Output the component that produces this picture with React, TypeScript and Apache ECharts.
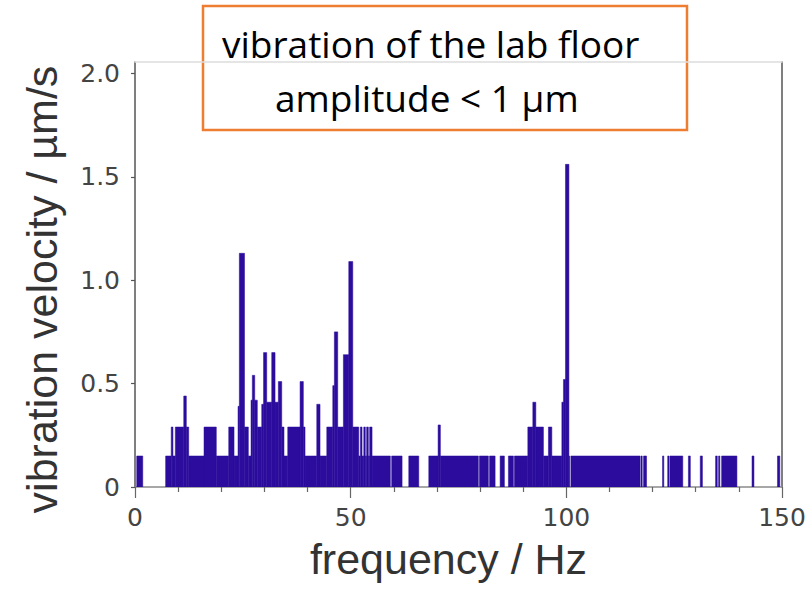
import React, { useEffect, useRef } from "react";
import * as echarts from "echarts";

// frequency axis (Hz) and velocity axis (µm/s)
const xTickValues = [0, 50, 100, 150];
const yTickValues = [0, 0.5, 1.0, 1.5, 2.0];

// spectrum bands: [start Hz, end Hz, vibration velocity µm/s]
const bandsLow: number[][] = [
  [0.4, 1.8, 0.15],
  [7.1, 8.4, 0.15],
  [8.4, 8.8, 0.29],
  [8.8, 9.35, 0.15],
  [9.35, 11.3, 0.29],
  [11.3, 11.9, 0.44],
  [11.9, 12.45, 0.29],
  [12.45, 16.0, 0.15],
  [16.0, 18.85, 0.29],
  [18.85, 21.73, 0.15],
  [21.73, 22.96, 0.29],
  [22.96, 23.89, 0.15],
  [23.89, 24.19, 0.39],
  [24.19, 25.39, 1.13],
  [25.39, 26.28, 0.29],
  [26.28, 26.9, 0.15],
  [26.9, 27.2, 0.42],
  [27.2, 27.76, 0.54],
  [27.76, 28.36, 0.42],
  [28.36, 29.38, 0.29],
  [29.38, 29.8, 0.4],
  [29.8, 30.54, 0.65],
  [30.54, 31.7, 0.41],
  [31.7, 32.47, 0.65],
  [32.47, 33.23, 0.41],
  [33.23, 34.02, 0.51],
  [34.02, 34.55, 0.29],
  [34.55, 35.41, 0.15],
];

const bandsMid: number[][] = [
  [35.41, 38.27, 0.29],
  [38.27, 39.03, 0.51],
  [39.03, 39.42, 0.29],
  [39.42, 42.14, 0.15],
  [42.14, 42.9, 0.4],
  [42.9, 44.46, 0.15],
  [44.46, 45.85, 0.29],
  [45.85, 46.22, 0.49],
  [46.22, 47.0, 0.75],
  [47.0, 48.31, 0.29],
  [48.31, 49.56, 0.64],
  [49.56, 50.49, 1.09],
  [50.49, 51.88, 0.29],
  [51.88, 52.25, 0.15],
  [52.25, 52.64, 0.29],
  [52.64, 53.04, 0.15],
  [53.04, 53.4, 0.29],
  [53.4, 53.7, 0.15],
  [53.7, 54.1, 0.29],
  [54.1, 54.4, 0.15],
  [54.4, 54.96, 0.29],
  [54.96, 59.2, 0.15],
  [59.5, 61.92, 0.15],
  [63.47, 65.79, 0.15],
  [68.11, 70.27, 0.15],
  [70.27, 70.8, 0.3],
];

const bandsHigh: number[][] = [
  [70.8, 79.6, 0.15],
  [79.85, 81.93, 0.15],
  [82.2, 83.49, 0.15],
  [84.65, 85.64, 0.15],
  [86.57, 87.73, 0.15],
  [87.95, 91.07, 0.15],
  [91.07, 92.23, 0.29],
  [92.23, 92.93, 0.41],
  [92.93, 94.69, 0.29],
  [94.69, 95.85, 0.15],
  [95.85, 96.64, 0.29],
  [96.64, 98.96, 0.15],
  [98.96, 99.33, 0.41],
  [99.33, 99.8, 0.52],
  [99.8, 100.6, 1.56],
  [100.6, 100.75, 0.15],
  [101.05, 117.1, 0.15],
  [117.3, 117.6, 0.15],
  [117.9, 118.6, 0.15],
  [122.3, 122.6, 0.15],
  [123.5, 123.8, 0.15],
  [124.0, 127.0, 0.15],
  [128.3, 128.75, 0.15],
  [131.05, 131.55, 0.15],
  [134.6, 135.0, 0.15],
  [135.3, 135.6, 0.15],
  [136.0, 139.55, 0.15],
  [143.05, 143.5, 0.15],
  [148.95, 149.5, 0.15],
];

const titleLines = ["vibration of the lab floor", "amplitude < 1 \u03bcm"];
const xAxisTitle = "frequency / Hz";
const yAxisTitle = "vibration velocity / \u00b5m/s";

const BAR_COLOR = "#2B0C9C";
const FONT = "'Liberation Sans', Arial, Helvetica, sans-serif";
const TICK_FONT = "'DejaVu Sans', sans-serif";
const BOX_FONT = "'Open Sans', Lato, sans-serif";

export default function App() {
  const ref = useRef<HTMLDivElement>(null);

  useEffect(() => {
    if (!ref.current) return;
    const chart = echarts.init(ref.current, null, { renderer: "svg" });
    const data = [...bandsLow, ...bandsMid, ...bandsHigh];

    chart.setOption({
      animation: false,
      backgroundColor: "#ffffff",
      grid: { left: 135, right: 28, top: 62, bottom: 104 },
      xAxis: [
        {
          type: "value",
          min: 0,
          max: 150,
          interval: 50,
          position: "bottom",
          name: xAxisTitle,
          nameLocation: "middle",
          nameGap: 50,
          nameTextStyle: {
            fontFamily: FONT,
            fontSize: 43,
            color: "#333",
            padding: [0, 20, 0, 0],
          },
          axisLine: { show: true, lineStyle: { color: "#8a8a8a", width: 1.5 } },
          axisTick: { show: true, length: 11, lineStyle: { color: "#666", width: 1.2 } },
          minorTick: { show: true, splitNumber: 5, length: 5, lineStyle: { color: "#666", width: 1.2 } },
          axisLabel: {
            show: true,
            margin: 18,
            fontFamily: TICK_FONT,
            fontSize: 25,
            color: "#444",
            customValues: xTickValues,
          },
          splitLine: { show: false },
        },
        {
          type: "value",
          min: 0,
          max: 150,
          position: "top",
          axisLine: { show: true, onZero: false, lineStyle: { color: "#dddddd", width: 1.5 } },
          axisTick: { show: false },
          axisLabel: { show: false },
          splitLine: { show: false },
        },
      ],
      yAxis: [
        {
          type: "value",
          min: 0,
          max: 2.055,
          position: "left",
          name: yAxisTitle,
          nameLocation: "middle",
          nameGap: 72,
          nameTextStyle: {
            fontFamily: FONT,
            fontSize: 43,
            color: "#333",
            padding: [0, 30, 0, 0],
          },
          axisLine: { show: true, onZero: false, lineStyle: { color: "#555", width: 1.5 } },
          axisTick: { show: true, length: 4, customValues: yTickValues, lineStyle: { color: "#555", width: 1.2 } },
          axisLabel: {
            show: true,
            margin: 15,
            fontFamily: TICK_FONT,
            fontSize: 25,
            color: "#444",
            customValues: yTickValues,
            formatter: (v: number) => (v === 0 ? "0" : v.toFixed(1)),
          },
          splitLine: { show: false },
        },
        {
          type: "value",
          min: 0,
          max: 2.055,
          position: "right",
          axisLine: { show: true, onZero: false, lineStyle: { color: "#555", width: 1.5 } },
          axisTick: { show: false },
          axisLabel: { show: false },
          splitLine: { show: false },
        },
      ],
      series: [
        {
          type: "custom",
          xAxisIndex: 0,
          yAxisIndex: 0,
          clip: true,
          encode: { x: [0, 1], y: 2 },
          data,
          renderItem: (params: any, api: any) => {
            const topLeft = api.coord([api.value(0), api.value(2)]);
            const bottomRight = api.coord([api.value(1), 0]);
            return {
              type: "rect",
              shape: {
                x: topLeft[0],
                y: topLeft[1],
                width: bottomRight[0] - topLeft[0],
                height: bottomRight[1] - topLeft[1],
              },
              style: { fill: BAR_COLOR, stroke: BAR_COLOR, lineWidth: 0.5 },
            };
          },
        },
      ],
      graphic: [
        {
          type: "group",
          z: 100,
          children: [
            {
              type: "rect",
              shape: { x: 203, y: 6, width: 484, height: 124 },
              style: { fill: "#ffffff", stroke: "#ED7D31", lineWidth: 2.5 },
            },
            {
              type: "text",
              x: 222,
              y: 43,
              style: {
                text: titleLines[0],
                font: "37px " + BOX_FONT,
                fill: "#000",
                textAlign: "left",
                textVerticalAlign: "middle",
              },
            },
            {
              type: "text",
              x: 275,
              y: 97,
              style: {
                text: titleLines[1],
                font: "37px " + BOX_FONT,
                fill: "#000",
                textAlign: "left",
                textVerticalAlign: "middle",
              },
            },
          ],
        },
      ],
    });

    return () => chart.dispose();
  }, []);

  return (
    <div
      ref={ref}
      style={{ position: "fixed", left: 0, top: 0, width: 810, height: 591 }}
    />
  );
}
